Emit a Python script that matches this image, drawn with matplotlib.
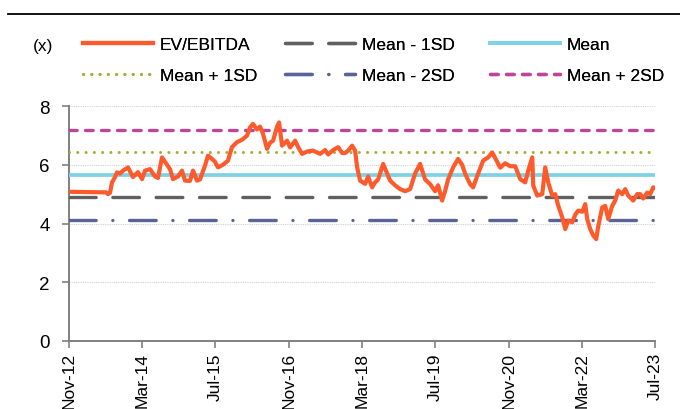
import matplotlib
matplotlib.use("Agg")
import matplotlib.pyplot as plt
from matplotlib.lines import Line2D
import pandas as pd

# ---- data ----
# dates as decimal years, EV/EBITDA multiple (x)
date_years = [2012.833, 2013.507, 2013.543, 2013.580, 2013.616, 2013.671, 2013.707, 2013.762,
              2013.816, 2013.907, 2013.998, 2014.089, 2014.162, 2014.217, 2014.308, 2014.399,
              2014.453, 2014.526, 2014.617, 2014.672, 2014.726, 2014.817, 2014.890, 2014.945,
              2015.036, 2015.090, 2015.163, 2015.218, 2015.309, 2015.363, 2015.436, 2015.491,
              2015.545, 2015.636, 2015.727, 2015.800, 2015.891, 2015.982, 2016.073, 2016.128,
              2016.182, 2016.255, 2016.310, 2016.364, 2016.437, 2016.492, 2016.547, 2016.619,
              2016.656, 2016.710, 2016.801, 2016.856, 2016.947, 2017.002, 2017.074, 2017.165,
              2017.275, 2017.402, 2017.493, 2017.548, 2017.639, 2017.730, 2017.802, 2017.857,
              2017.912, 2017.985, 2018.039, 2018.076, 2018.130, 2018.221, 2018.276, 2018.349,
              2018.403, 2018.458, 2018.549, 2018.622, 2018.676, 2018.767, 2018.858, 2018.949,
              2019.040, 2019.131, 2019.222, 2019.313, 2019.404, 2019.495, 2019.550, 2019.623,
              2019.677, 2019.732, 2019.823, 2019.914, 2019.987, 2020.041, 2020.132, 2020.187,
              2020.278, 2020.369, 2020.460, 2020.533, 2020.624, 2020.678, 2020.769, 2020.860,
              2020.951, 2021.042, 2021.133, 2021.188, 2021.261, 2021.279, 2021.352, 2021.443,
              2021.497, 2021.552, 2021.625, 2021.680, 2021.734, 2021.807, 2021.862, 2021.916,
              2021.989, 2022.044, 2022.098, 2022.171, 2022.226, 2022.262, 2022.317, 2022.371,
              2022.426, 2022.462, 2022.535, 2022.590, 2022.644, 2022.717, 2022.772, 2022.826,
              2022.899, 2022.954, 2023.008, 2023.099, 2023.172, 2023.227, 2023.281, 2023.354,
              2023.409, 2023.463, 2023.500]
ev_ebitda = [5.08, 5.06, 5.00, 5.05, 5.40, 5.58, 5.74, 5.70,
             5.80, 5.91, 5.58, 5.75, 5.51, 5.80, 5.85, 5.60,
             5.55, 6.25, 6.00, 5.85, 5.51, 5.60, 5.80, 5.46,
             5.45, 5.80, 5.46, 5.50, 5.97, 6.31, 6.20, 6.10,
             5.91, 6.00, 6.14, 6.60, 6.77, 6.85, 6.99, 7.27,
             7.39, 7.20, 7.30, 7.05, 6.54, 6.75, 6.82, 7.30,
             7.44, 6.65, 6.82, 6.59, 6.82, 6.60, 6.37, 6.45,
             6.48, 6.37, 6.50, 6.35, 6.50, 6.60, 6.40, 6.40,
             6.48, 6.65, 6.48, 5.91, 5.46, 5.35, 5.60, 5.23,
             5.40, 5.50, 6.03, 5.70, 5.46, 5.30, 5.17, 5.10,
             5.17, 5.70, 6.03, 5.50, 5.34, 5.10, 5.30, 4.78,
             5.10, 5.50, 5.91, 6.20, 6.00, 5.70, 5.34, 5.23,
             5.70, 6.14, 6.25, 6.42, 6.10, 5.90, 6.05, 5.95,
             5.95, 5.51, 5.40, 5.80, 6.25, 5.29, 4.95, 5.00,
             5.91, 5.40, 4.95, 5.00, 4.61, 4.21, 3.81, 4.10,
             4.04, 4.30, 4.44, 4.40, 4.66, 4.15, 3.81, 3.59,
             3.47, 3.90, 4.55, 4.60, 4.15, 4.60, 4.78, 5.12,
             5.00, 5.17, 4.95, 4.78, 5.00, 5.00, 4.85, 5.05,
             5.00, 5.23, 5.20]
mean_val = 5.66
sd_val = 0.77
series_labels = ["EV/EBITDA", "Mean + 1SD", "Mean - 1SD", "Mean - 2SD", "Mean", "Mean + 2SD"]
tick_labels = ["Nov-12", "Mar-14", "Jul-15", "Nov-16", "Mar-18", "Jul-19", "Nov-20", "Mar-22", "Jul-23"]

plt.rcParams['font.family'] = ['Liberation Sans', 'DejaVu Sans']
FS = 12.5


def to_datetime(yrs):
    out = []
    for v in yrs:
        y = int(v)
        start = pd.Timestamp(year=y, month=1, day=1)
        end = pd.Timestamp(year=y + 1, month=1, day=1)
        out.append(start + (end - start) * (v - y))
    return pd.DatetimeIndex(out)


x = to_datetime(date_years)
tick_dates = pd.to_datetime(tick_labels, format="%b-%y")

fig = plt.figure(figsize=(6.8, 4.1), dpi=100)
ax = fig.add_axes([69/680, 1-342/410, (655-69)/680, (342-107)/410])

ax.grid(axis='y', color='#d0d0d0', linestyle=(0, (1, 1)), linewidth=0.8)
ax.set_axisbelow(True)

span = [tick_dates[0], tick_dates[-1]]
h_ev, = ax.plot(x, ev_ebitda, color='#FF5A2C', lw=3.0, solid_joinstyle='round', zorder=5)
h_m1, = ax.plot(span, [mean_val - sd_val]*2, color='#606060', lw=2.4,
                dashes=(8, 5), dash_capstyle='round', zorder=3)
h_mean, = ax.plot(span, [mean_val]*2, color='#7FD2E6', lw=2.7, zorder=3)
h_p1, = ax.plot(span, [mean_val + sd_val]*2, color='#A7AE36', lw=2.2,
                dashes=(0.01, 2.7), dash_capstyle='round', zorder=3)
h_m2, = ax.plot(span, [mean_val - 2*sd_val]*2, color='#5A6398', lw=2.4,
                dashes=(8, 5, 0.01, 5), dash_capstyle='round', zorder=3)
h_p2, = ax.plot(span, [mean_val + 2*sd_val]*2, color='#C0439A', lw=2.4,
                dashes=(2.3, 2.5), dash_capstyle='round', zorder=3)

ax.set_ylim(0, 8)
ax.set_yticks([0, 2, 4, 6, 8])
ax.set_xlim(tick_dates[0], tick_dates[-1])
ax.set_xticks(tick_dates)
ax.set_xticklabels(tick_labels, rotation=90)

for s in ['top', 'right']:
    ax.spines[s].set_visible(False)
for s in ['left', 'bottom']:
    ax.spines[s].set_color('#808080')
    ax.spines[s].set_linewidth(1.4)
ax.tick_params(axis='both', colors='#808080', length=5, width=1.2, labelsize=FS,
               labelcolor='black')
ax.tick_params(axis='y', pad=9, labelsize=FS + 1)
ax.tick_params(axis='x', pad=3)

# legend: three columns, each placed where the reference has it
handles = [h_ev, h_p1, h_m1, h_m2, h_mean, h_p2]
col_x = [83, 285, 490]
for i, cx in enumerate(col_x):
    leg = fig.legend(handles[2*i:2*i+2], series_labels[2*i:2*i+2], loc='center left',
                     bbox_to_anchor=(cx/680, 1-61/410), frameon=False, fontsize=FS,
                     handlelength=70/(FS*100/72), handletextpad=0.4,
                     labelspacing=0.95, borderaxespad=0, borderpad=0)
    fig.add_artist(leg)

fig.text(43/680, 1-47/410, "(x)", fontsize=FS, ha='center', va='center')
fig.add_artist(Line2D([8/680, 1.0], [1-15/410, 1-15/410], color='black', lw=1.3))

fig.savefig("out.png", dpi=100)
